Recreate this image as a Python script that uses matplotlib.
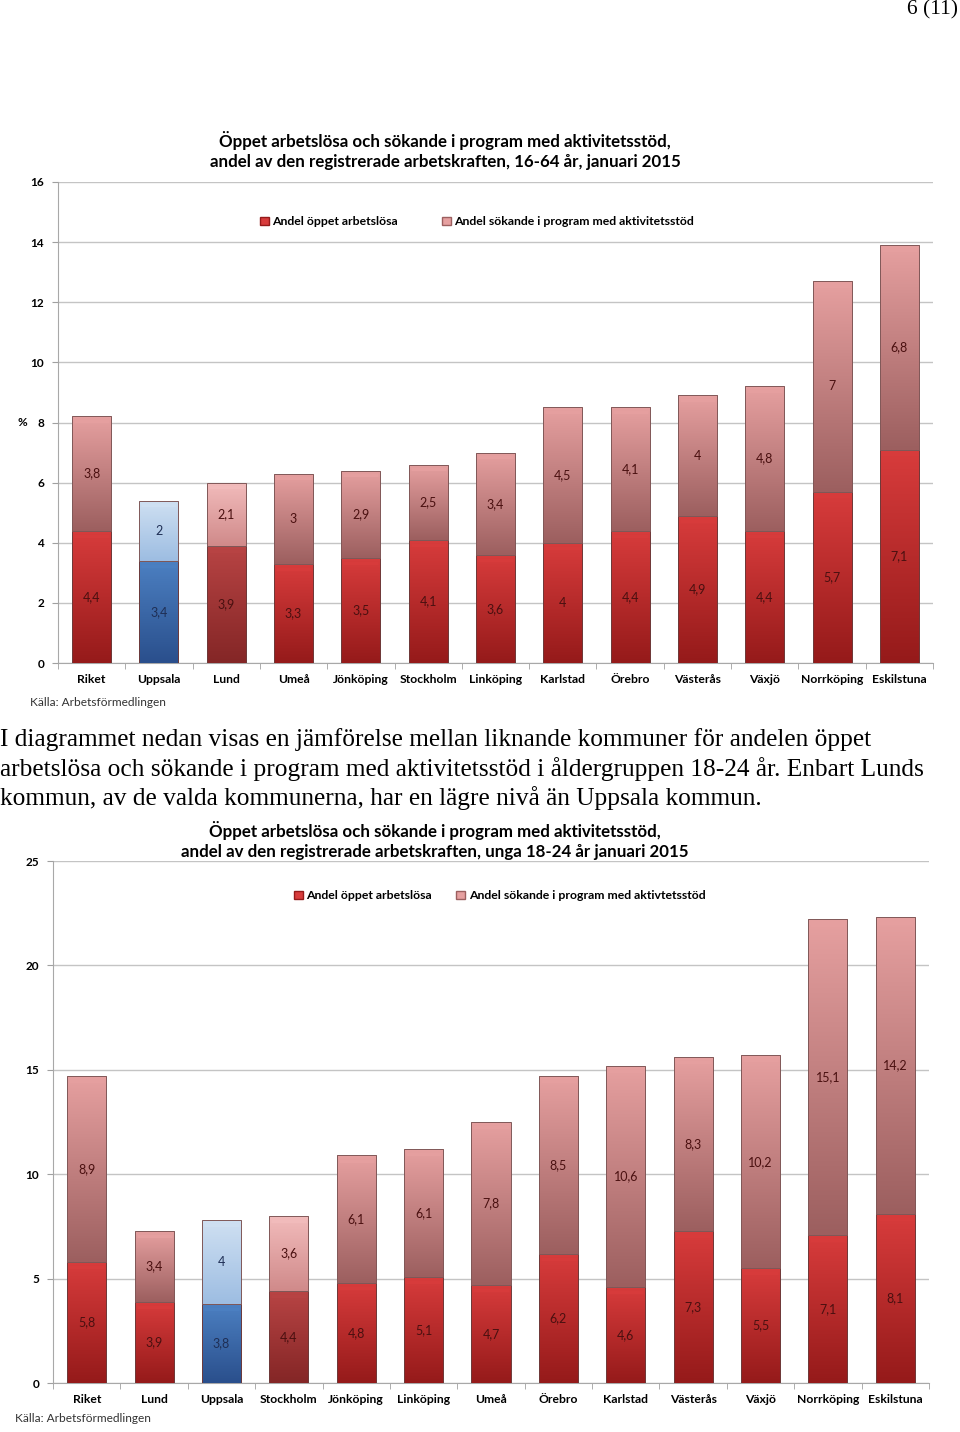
import numpy as np
import matplotlib
matplotlib.use('Agg')
from matplotlib import pyplot as plt
from matplotlib.colors import LinearSegmentedColormap
from matplotlib.patches import Patch

# chart 1: 16-64 years
cats1 = ['Riket', 'Uppsala', 'Lund', 'Umeå', 'Jönköping', 'Stockholm', 'Linköping',
         'Karlstad', 'Örebro', 'Västerås', 'Växjö', 'Norrköping', 'Eskilstuna']
open1 = [4.4, 3.4, 3.9, 3.3, 3.5, 4.1, 3.6, 4, 4.4, 4.9, 4.4, 5.7, 7.1]
prog1 = [3.8, 2, 2.1, 3, 2.9, 2.5, 3.4, 4.5, 4.1, 4, 4.8, 7, 6.8]

# chart 2: 18-24 years
cats2 = ['Riket', 'Lund', 'Uppsala', 'Stockholm', 'Jönköping', 'Linköping', 'Umeå',
         'Örebro', 'Karlstad', 'Västerås', 'Växjö', 'Norrköping', 'Eskilstuna']
open2 = [5.8, 3.9, 3.8, 4.4, 4.8, 5.1, 4.7, 6.2, 4.6, 7.3, 5.5, 7.1, 8.1]
prog2 = [8.9, 3.4, 4, 3.6, 6.1, 6.1, 7.8, 8.5, 10.6, 8.3, 10.2, 15.1, 14.2]

FONT = 'Lato'
SERIF = 'Liberation Serif'

# (bottom colour, top colour) of the vertical gradient
COLORS = {
    'open': ('#951a1a', '#d83c3c'),
    'prog': ('#9c5f5f', '#e6a0a0'),
    'open_dim': ('#842626', '#b84444'),
    'prog_dim': ('#d08a8a', '#f2bcbc'),
    'open_blue': ('#2a4f8c', '#4c80c2'),
    'prog_blue': ('#9dbde2', '#cfe0f2'),
}


def fmt(v):
    return ('%g' % v).replace('.', ',')


def gradient_bars(ax, bars, keys):
    grad = np.linspace(0, 1, 128).reshape(-1, 1)
    for b, key in zip(bars, keys):
        lo, hi = COLORS[key]
        cmap = LinearSegmentedColormap.from_list(key, [lo, hi])
        x0, y0 = b.get_x(), b.get_y()
        x1, y1 = x0 + b.get_width(), y0 + b.get_height()
        im = ax.imshow(grad, extent=(x0, x1, y0, y1), origin='lower',
                       aspect='auto', cmap=cmap, zorder=3, interpolation='bilinear')
        im.set_clip_path(b)
        # light bevel along the top of each segment
        ax.plot([x0 + 0.03, x1 - 0.03], [y1 - 0.01 * ax.get_ylim()[1]] * 2,
                color=hi, lw=2.2, alpha=0.9, zorder=4, solid_capstyle='butt')


def draw_chart(ax, cats, opn, prog, ymax, ystep, dim_city):
    x = np.arange(len(cats))
    ax.set_xlim(-0.5, len(cats) - 0.5)
    ax.set_ylim(0, ymax)
    okeys, pkeys = [], []
    for c in cats:
        if c == 'Uppsala':
            okeys.append('open_blue'); pkeys.append('prog_blue')
        elif c == dim_city:
            okeys.append('open_dim'); pkeys.append('prog_dim')
        else:
            okeys.append('open'); pkeys.append('prog')
    b1 = ax.bar(x, opn, width=0.58, color='none', edgecolor='#6e3a3a', lw=0.7, zorder=5)
    b2 = ax.bar(x, prog, bottom=opn, width=0.58, color='none', edgecolor='#805858',
                lw=0.7, zorder=5)
    gradient_bars(ax, b1, okeys)
    gradient_bars(ax, b2, pkeys)
    ax.set_xlim(-0.5, len(cats) - 0.5)
    ax.set_ylim(0, ymax)

    for xi, o, p, k in zip(x, opn, prog, okeys):
        tc = '#1f2f55' if k == 'open_blue' else '#4a1010'
        ax.text(xi, o / 2, fmt(o), ha='center', va='center', fontsize=9,
                color=tc, family=FONT, zorder=6)
        ax.text(xi, o + p / 2, fmt(p), ha='center', va='center', fontsize=9,
                color=tc, family=FONT, zorder=6)

    ax.set_yticks(np.arange(0, ymax + 0.1, ystep))
    ax.set_yticklabels([fmt(v) for v in np.arange(0, ymax + 0.1, ystep)],
                       family=FONT, fontweight='bold', fontsize=8.5)
    ax.set_xticks(x)
    ax.set_xticklabels(cats, family=FONT, fontweight='bold', fontsize=8.7)
    ax.set_xticks(np.arange(-0.5, len(cats)), minor=True)
    ax.tick_params(axis='x', which='major', length=0, pad=8)
    ax.tick_params(axis='x', which='minor', length=4, color='#a0a0a0')
    ax.tick_params(axis='y', length=4, color='#a0a0a0', pad=6)
    ax.grid(axis='y', color='#c4c4c4', lw=1)
    ax.set_axisbelow(True)
    for s in ['top', 'right']:
        ax.spines[s].set_visible(False)
    for s in ['left', 'bottom']:
        ax.spines[s].set_color('#a8a8a8')

    handles = [Patch(facecolor=COLORS['open'][1], edgecolor=COLORS['open'][0]),
               Patch(facecolor=COLORS['prog'][1], edgecolor=COLORS['prog'][0])]
    return handles


fig = plt.figure(figsize=(9.6, 14.32), dpi=100)
W, H = 960, 1432

fig.text(958 / W, 1 - 10 / H, '6 (11)', ha='right', va='center', family=SERIF, fontsize=15.5)

# chart 1
ax1 = fig.add_axes([58 / W, 1 - 663 / H, 875 / W, 481 / H])
h = draw_chart(ax1, cats1, open1, prog1, 16, 2, 'Lund')
ax1.legend(h, ['Andel öppet arbetslösa', 'Andel sökande i program med aktivitetsstöd'],
           ncol=2, loc='center', bbox_to_anchor=(0.479, 0.917), frameon=False,
           prop={'family': FONT, 'weight': 'bold', 'size': 8.8},
           handlelength=0.7, handleheight=0.7, handletextpad=0.3, columnspacing=3.6)
fig.text(445 / W, 1 - 150.5 / H,
         'Öppet arbetslösa och sökande i program med aktivitetsstöd,\n'
         'andel av den registrerade arbetskraften, 16-64 år, januari 2015',
         ha='center', va='center', family=FONT, fontweight='bold', fontsize=12.2,
         linespacing=1.27)
fig.text(22 / W, 1 - 423 / H, '%', ha='center', va='center', family=FONT,
         fontweight='bold', fontsize=8.5)
fig.text(30 / W, 1 - 703 / H, 'Källa: Arbetsförmedlingen', ha='left', va='center',
         family=FONT, fontsize=8.6, color='#333333')

# text between the charts
lines = ['I diagrammet nedan visas en jämförelse mellan liknande kommuner för andelen öppet',
         'arbetslösa och sökande i program med aktivitetsstöd i åldergruppen 18-24 år. Enbart Lunds',
         'kommun, av de valda kommunerna, har en lägre nivå än Uppsala kommun.']
for i, line in enumerate(lines):
    fig.text(0, 1 - (740 + 29 * i) / H, line, ha='left', va='center', family=SERIF,
             fontsize=18.3)

# chart 2
ax2 = fig.add_axes([53 / W, 1 - 1383 / H, 876 / W, 522 / H])
h = draw_chart(ax2, cats2, open2, prog2, 25, 5, 'Stockholm')
ax2.legend(h, ['Andel öppet arbetslösa', 'Andel sökande i program med aktivtetsstöd'],
           ncol=2, loc='center', bbox_to_anchor=(0.51, 0.933), frameon=False,
           prop={'family': FONT, 'weight': 'bold', 'size': 8.8},
           handlelength=0.7, handleheight=0.7, handletextpad=0.3, columnspacing=2.0)
fig.text(435 / W, 1 - 840.5 / H,
         'Öppet arbetslösa och sökande i program med aktivitetsstöd,\n'
         'andel av den registrerade arbetskraften, unga 18-24 år januari 2015',
         ha='center', va='center', family=FONT, fontweight='bold', fontsize=12.2,
         linespacing=1.27)
fig.text(15 / W, 1 - 1418 / H, 'Källa: Arbetsförmedlingen', ha='left', va='center',
         family=FONT, fontsize=8.6, color='#333333')

fig.savefig('out.png', dpi=100)
